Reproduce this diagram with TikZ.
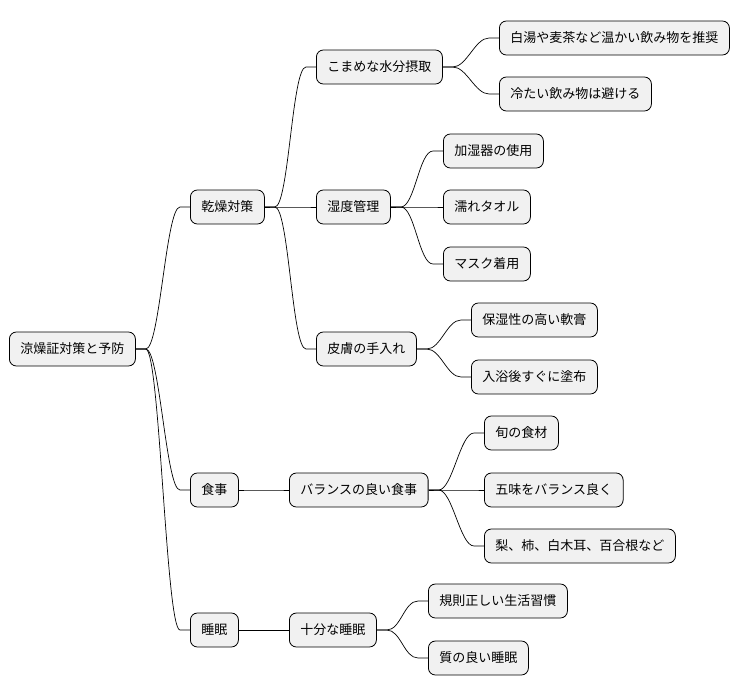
\documentclass[tikz,border=0pt]{standalone}
\usepackage{fontspec}
\setmainfont{Noto Sans CJK JP}
\begin{document}
\begin{tikzpicture}[x=1pt,y=-1pt,
 n/.style={draw=black,fill={rgb,255:red,241;green,241;blue,241},rounded corners=7pt,line width=0.8pt,minimum height=34pt,inner xsep=11pt,anchor=west,font=\fontsize{13}{15}\selectfont},
 c/.style={line width=0.7pt}]
\useasboundingbox (0,0) rectangle (754,696);
\node[n] (r) at (9,349) {涼燥証対策と予防};
\node[n] (a) at (190,207) {乾燥対策};
\node[n] (b) at (190,490) {食事};
\node[n] (s) at (190,630) {睡眠};
\node[n] (a1) at (316,67) {こまめな水分摂取};
\node[n] (a2) at (316,207) {湿度管理};
\node[n] (a3) at (316,349) {皮膚の手入れ};
\node[n] (b1) at (289,490) {バランスの良い食事};
\node[n] (s1) at (289,630) {十分な睡眠};
\node[n] (a11) at (499,38) {白湯や麦茶など温かい飲み物を推奨};
\node[n] (a12) at (499,94) {冷たい飲み物は避ける};
\node[n] (a21) at (443,151) {加湿器の使用};
\node[n] (a22) at (443,207) {濡れタオル};
\node[n] (a23) at (443,264) {マスク着用};
\node[n] (a31) at (471,320) {保湿性の高い軟膏};
\node[n] (a32) at (471,377) {入浴後すぐに塗布};
\node[n] (b11) at (484,433) {旬の食材};
\node[n] (b12) at (484,490) {五味をバランス良く};
\node[n] (b13) at (484,546) {梨、柿、白木耳、百合根など};
\node[n] (s11) at (428,601) {規則正しい生活習慣};
\node[n] (s12) at (428,658) {質の良い睡眠};
\foreach \p/\q in {r/a,r/b,r/s,a/a1,a/a2,a/a3,b/b1,s/s1,a1/a11,a1/a12,a2/a21,a2/a22,a2/a23,a3/a31,a3/a32,b1/b11,b1/b12,b1/b13,s1/s11,s1/s12}
 \draw[c] (\p.east) -- ++(10,0) .. controls +(14,0) and +(-14,0) .. ([xshift=-10pt]\q.west) -- (\q.west);
\end{tikzpicture}
\end{document}
